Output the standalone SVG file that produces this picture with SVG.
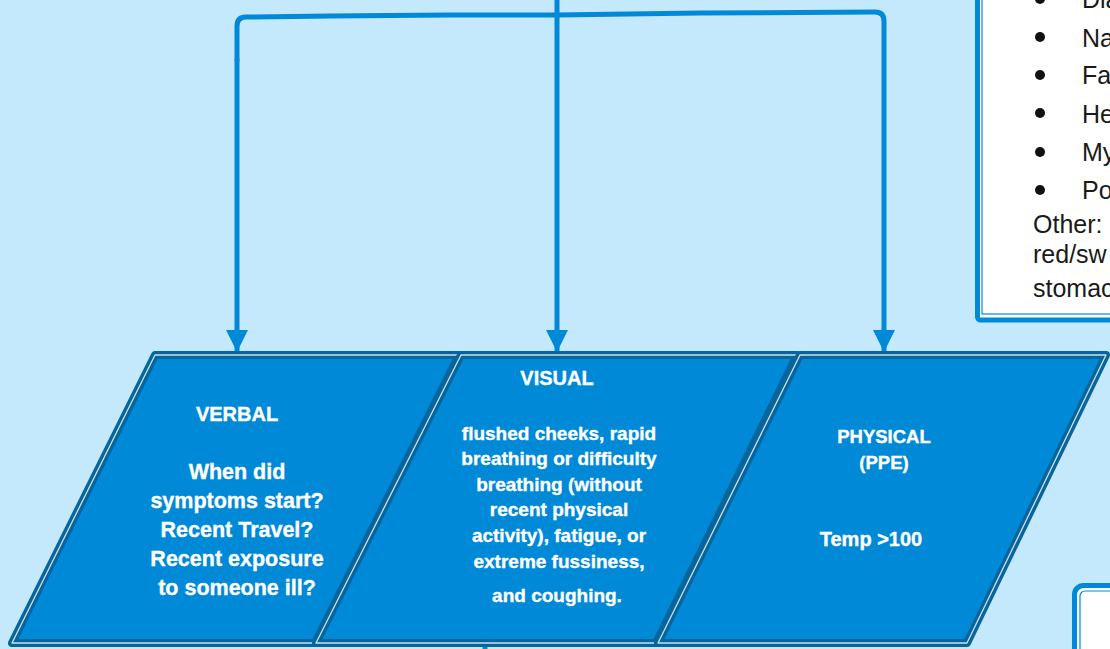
<svg xmlns="http://www.w3.org/2000/svg" width="1110" height="649" viewBox="0 0 1110 649">
<defs>
<style>
.para{fill:#0089D7;stroke:#07659E;stroke-width:8;stroke-linejoin:round}
.paraIn{fill:none;stroke:#FFFFFF;stroke-width:1.3;stroke-linejoin:round;opacity:0.8}
.conn{fill:none;stroke:#0089D7;stroke-width:5;stroke-linejoin:round;stroke-linecap:round}
.t{font-family:"Liberation Sans",Arial,sans-serif;font-weight:bold;fill:#FFFFFF;text-anchor:middle;stroke:#FFFFFF;stroke-width:0.35}
.b{font-family:"Liberation Sans",Arial,sans-serif;font-size:25px;fill:#1A1A1A}
.boxOut{fill:#FFFFFF;stroke:#0089D7;stroke-width:5}
.boxIn{fill:none;stroke:#0089D7;stroke-width:1.2}
</style>
<marker id="arr" viewBox="0 0 10 10" refX="10" refY="5" markerWidth="4.4" markerHeight="4.6" orient="auto" markerUnits="strokeWidth">
<path d="M0,0 L10,5 L0,10 Z" fill="#0089D7"/>
</marker>
</defs>
<rect x="0" y="0" width="1110" height="649" fill="#C5E9FC"/>

<g id="infoBox">
<rect class="boxOut" x="977.5" y="-20" width="200" height="340" rx="3"/>
<rect class="boxIn" x="982" y="-20" width="200" height="334"/>
<circle cx="1040" cy="-1" r="5" fill="#111"/>
<circle cx="1040" cy="37" r="5" fill="#111"/>
<circle cx="1040" cy="75" r="5" fill="#111"/>
<circle cx="1040" cy="113" r="5" fill="#111"/>
<circle cx="1040" cy="152" r="5" fill="#111"/>
<circle cx="1040" cy="190" r="5" fill="#111"/>
<text class="b" x="1082" y="8">Dia</text>
<text class="b" x="1082" y="47">Na</text>
<text class="b" x="1082" y="84">Fat</text>
<text class="b" x="1082" y="123">He</text>
<text class="b" x="1082" y="161">My</text>
<text class="b" x="1082" y="199">Po</text>
<text class="b" x="1033" y="233">Other:</text>
<text class="b" x="1033" y="263">red/sw</text>
<text class="b" x="1033" y="297">stomac</text>
</g>

<g id="bottomBox">
<rect class="boxOut" x="1074.5" y="585.5" width="80" height="100" rx="9"/>
<rect class="boxIn" x="1080" y="591" width="80" height="100" rx="5"/>
</g>

<g id="connectors">
<path class="conn" d="M557,-5 L557,15"/>
<path class="conn" d="M557,17 L557,352" marker-end="url(#arr)"/>
<path class="conn" d="M237,60 L237,26 Q237,17 246,17 L330,16 L450,15 L557,15 L700,13 L875,12 Q884,12 884,21 L884,352" marker-end="url(#arr)"/>
<path class="conn" d="M237,60 L237,352" marker-end="url(#arr)"/>
<path class="conn" d="M485,643 L485,652"/>
</g>

<g id="verbal">
<path class="para" d="M155,355 L459,355 L315,643 L12,643 Z"/>
<path class="paraIn" d="M155,355 L459,355 L315,643 L12,643 Z"/>
<text class="t" x="237" y="421" font-size="20">VERBAL</text>
<text class="t" x="237" y="479" font-size="21.5">When did</text>
<text class="t" x="237" y="508" font-size="21.5">symptoms start?</text>
<text class="t" x="237" y="537" font-size="21.5">Recent Travel?</text>
<text class="t" x="237" y="566" font-size="21.5">Recent exposure</text>
<text class="t" x="237" y="595" font-size="21.5">to someone ill?</text>
</g>

<g id="visual">
<path class="para" d="M461,355 L797,355 L656,643 L316,643 Z"/>
<path class="paraIn" d="M461,355 L797,355 L656,643 L316,643 Z"/>
<text class="t" x="557" y="385" font-size="20">VISUAL</text>
<text class="t" x="559" y="440" font-size="19">flushed cheeks, rapid</text>
<text class="t" x="559" y="465" font-size="19">breathing or difficulty</text>
<text class="t" x="559" y="491" font-size="19">breathing (without</text>
<text class="t" x="559" y="516" font-size="19">recent physical</text>
<text class="t" x="559" y="542" font-size="19">activity), fatigue, or</text>
<text class="t" x="559" y="568" font-size="19">extreme fussiness,</text>
<text class="t" x="557" y="602" font-size="19">and coughing.</text>
</g>

<g id="physical">
<path class="para" d="M800,355 L1106,355 L967,643 L658,643 Z"/>
<path class="paraIn" d="M800,355 L1106,355 L967,643 L658,643 Z"/>
<text class="t" x="884" y="443" font-size="18.5">PHYSICAL</text>
<text class="t" x="884" y="469" font-size="18.5">(PPE)</text>
<text class="t" x="871" y="546" font-size="20">Temp &gt;100</text>
</g>
</svg>
